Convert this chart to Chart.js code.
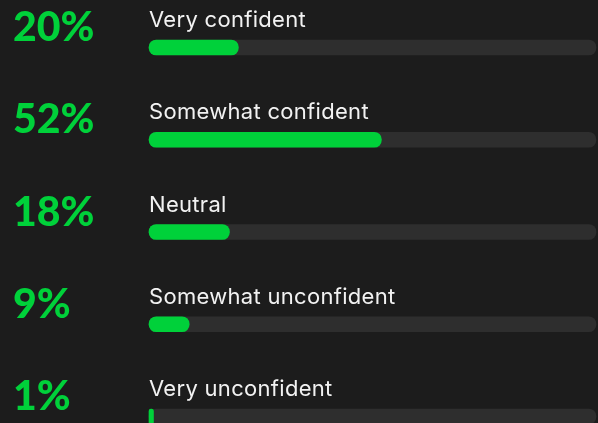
<!DOCTYPE html>
<html>
<head>
<meta charset="utf-8">
<script src="https://cdn.jsdelivr.net/npm/chart.js@4"></script>
<style>
    html, body { margin: 0; padding: 0; background: #1c1c1c; overflow: hidden; }
    #wrap { width: 598px; height: 423px; position: relative; }
</style>
</head>
<body>
<div id="wrap"><canvas id="confidenceChart"></canvas></div>
<script>
// Survey data
const categories = ['Very confident', 'Somewhat confident', 'Neutral', 'Somewhat unconfident', 'Very unconfident'];
const percentages = [20, 52, 18, 9, 1];
const trackValues = [100, 100, 100, 100, 100];

const green = '#00d13a';
const track = '#2e2e2e';

// Draw category names above each bar
const categoryLabels = {
    id: 'categoryLabels',
    afterDatasetsDraw(chart) {
        const ctx = chart.ctx;
        const meta = chart.getDatasetMeta(1);
        ctx.save();
        ctx.font = '22px Inter';
        ctx.letterSpacing = '0.3px';
        ctx.fillStyle = '#f2f2f2';
        ctx.textAlign = 'left';
        ctx.textBaseline = 'alphabetic';
        meta.data.forEach((bar, i) => {
            ctx.fillText(categories[i], chart.chartArea.left, bar.y - bar.height / 2 - 13);
        });
        ctx.restore();
    }
};

new Chart(document.getElementById('confidenceChart'), {
    type: 'bar',
    data: {
        labels: categories,
        datasets: [{
            data: trackValues,
            backgroundColor: track,
            order: 2
        }, {
            data: percentages,
            backgroundColor: green,
            order: 1
        }]
    },
    options: {
        indexAxis: 'y',
        responsive: true,
        maintainAspectRatio: false,
        animation: false,
        layout: { padding: { top: 47.5, bottom: 6.5, left: 13, right: 2 } },
        datasets: {
            bar: {
                grouped: false,
                barThickness: 15,
                borderRadius: 8,
                borderSkipped: false,
                clip: false
            }
        },
        scales: {
            x: { min: 0, max: 100, display: false },
            y: {
                offset: false,
                grid: { display: false },
                border: { display: false },
                afterFit: scale => {
                    scale.width = 136;
                    scale.paddingTop = 0;
                    scale.paddingBottom = 0;
                },
                ticks: {
                    crossAlign: 'far',
                    padding: 0,
                    labelOffset: -19.5,
                    color: green,
                    font: { family: 'Lato', size: 41, weight: '900' },
                    callback: (value, index) => percentages[index] + '%'
                }
            }
        },
        plugins: {
            legend: { display: false },
            tooltip: { enabled: false }
        }
    },
    plugins: [categoryLabels]
});
</script>
</body>
</html>
